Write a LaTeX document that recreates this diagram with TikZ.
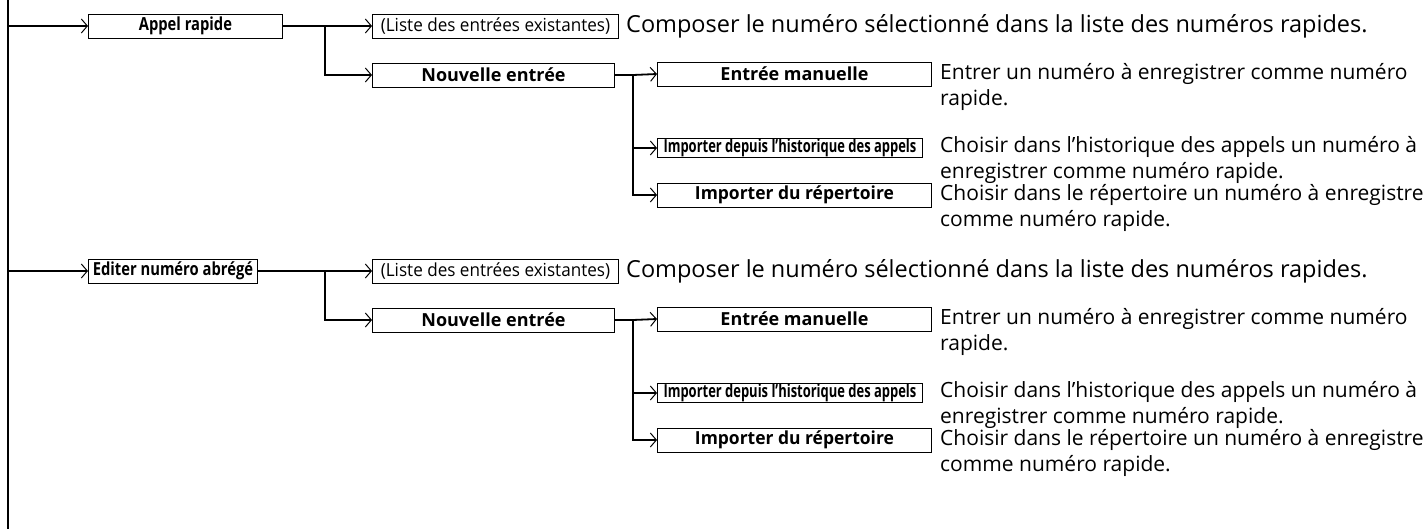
\documentclass[tikz,border=0pt]{standalone}
\usepackage{fontspec}
\setmainfont{Open Sans}
\usetikzlibrary{arrows.meta, positioning}
\newcommand{\narrow}[2][0.82]{\scalebox{#1}[1]{#2}}
\tikzset{
    box/.style={draw, line width=0.9pt, inner sep=0pt, minimum height=24pt, font=\fontsize{18}{20}\selectfont\bfseries},
    conn/.style={line width=1.8pt},
    arr/.style={conn, -{Straight Barb[length=6pt,width=14pt,line width=1pt]}},
    desc/.style={anchor=west, align=left, inner sep=0pt, font=\fontsize{21}{26}\selectfont}
}
\begin{document}
\begin{tikzpicture}[x=1pt, y=-1pt]
    \useasboundingbox (0,0) rectangle (1425,529);
    \coordinate (trunk) at (8,0);
    \coordinate (trunkend) at (8,529);
    \draw[line width=1.4pt] (trunk) -- (trunkend);

    \foreach \blk/\yo/\bw/\lbl in {a/0/194/Appel rapide, b/245/169/Editer numéro abrégé}{
        \begin{scope}[yshift=-\yo pt]
            % niveau 1
            \node[box, anchor=west, minimum width=\bw pt] (top\blk) at (88,26) {\narrow{\lbl}};
            \draw[arr] (top\blk.west -| trunk) -- (top\blk.west);
            % niveau 2
            \node[box, anchor=west, minimum width=246pt] (list\blk) at (372,26) {\narrow[0.95]{\mdseries (Liste des entrées existantes)}};
            \node[box, anchor=west, minimum width=242pt] (new\blk) at (372,75) {\narrow[1]{Nouvelle entrée}};
            \coordinate (fork\blk) at (325,26);
            \draw[conn] (top\blk.east) -- (fork\blk);
            \draw[arr] (fork\blk) -- (list\blk.west);
            \draw[arr] (fork\blk) |- (new\blk.west);
            \node[desc, font=\fontsize{23.5}{26}\selectfont] (dlist\blk) at (626,26) {Composer le numéro sélectionné dans la liste des numéros rapides.};
            % niveau 3
            \node[box, anchor=west, minimum width=274pt] (man\blk) at (657,74) {\narrow[1]{Entrée manuelle}};
            \node[box, anchor=west, minimum width=265pt, minimum height=19pt] (hist\blk) at (657,148) {\narrow[0.72]{Importer depuis l'historique des appels}};
            \node[box, anchor=west, minimum width=274pt] (rep\blk) at (657,195) {\narrow[0.97]{Importer du répertoire}};
            \coordinate (sub\blk) at (633,75);
            \draw[conn] (new\blk.east) -- (sub\blk);
            \draw[arr] (sub\blk) -- (man\blk.west);
            \draw[arr] (sub\blk) |- (hist\blk.west);
            \draw[arr] (sub\blk) |- (rep\blk.west);
            \node[desc] (dman\blk) at (940,87) {Entrer un numéro à enregistrer comme numéro\\rapide.};
            \node[desc] (dhist\blk) at (940,160) {Choisir dans l'historique des appels un numéro à\\enregistrer comme numéro rapide.};
            \node[desc] (drep\blk) at (940,208) {Choisir dans le répertoire un numéro à enregistrer\\comme numéro rapide.};
        \end{scope}
    }
\end{tikzpicture}
\end{document}
